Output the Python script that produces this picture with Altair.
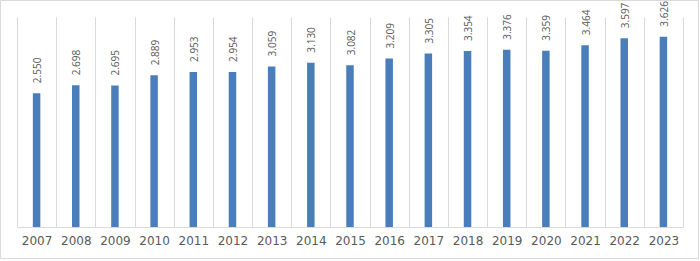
import altair as alt
import pandas as pd

years = ["2007", "2008", "2009", "2010", "2011", "2012", "2013", "2014", "2015",
         "2016", "2017", "2018", "2019", "2020", "2021", "2022", "2023"]
values = [2.550, 2.698, 2.695, 2.889, 2.953, 2.954, 3.059, 3.130, 3.082,
          3.209, 3.305, 3.354, 3.376, 3.359, 3.464, 3.597, 3.626]
labels = ["2.550", "2.698", "2.695", "2.889", "2.953", "2.954", "3.059", "3.130", "3.082",
          "3.209", "3.305", "3.354", "3.376", "3.359", "3.464", "3.597", "3.626"]

df = pd.DataFrame({"year": years, "value": values, "label": labels})

x = alt.X("year:N", sort=years, title=None,
          scale=alt.Scale(paddingInner=0, paddingOuter=0),
          axis=alt.Axis(labelAngle=0, grid=True, gridColor="#d9d9d9", gridWidth=1,
                        tickBand="extent", ticks=False, domainColor="#d9d9d9",
                        labelColor="#595959", labelFont="DejaVu Sans", labelFontSize=12,
                        labelPadding=8))
y = alt.Y("value:Q", scale=alt.Scale(domain=[0, 4], nice=False), axis=None, title=None)

base = alt.Chart(df).encode(x=x, y=y)

bars = base.mark_bar(size=7.5, color="#4a7ebb")
text = base.mark_text(angle=270, align="left", baseline="middle", yOffset=-10, xOffset=1.5,
                      font="Open Sans", fontSize=10, color="#595959").encode(text="label:N")

border = alt.Chart(alt.Data(values=[{}])).mark_rect(
    fill=None, stroke="#d9d9d9", strokeWidth=1
).encode(x=alt.value(-16.5), x2=alt.value(681.5), y=alt.value(-16.5), y2=alt.value(241.5))

chart = alt.layer(border, bars, text).properties(
    width=666, height=210,
    autosize=alt.AutoSizeParams(type="none"),
    padding={"left": 17, "top": 17, "right": 17, "bottom": 34},
    background="white",
).configure_view(stroke=None)

chart.save("out.html", embed_options={"renderer": "svg", "actions": False})
